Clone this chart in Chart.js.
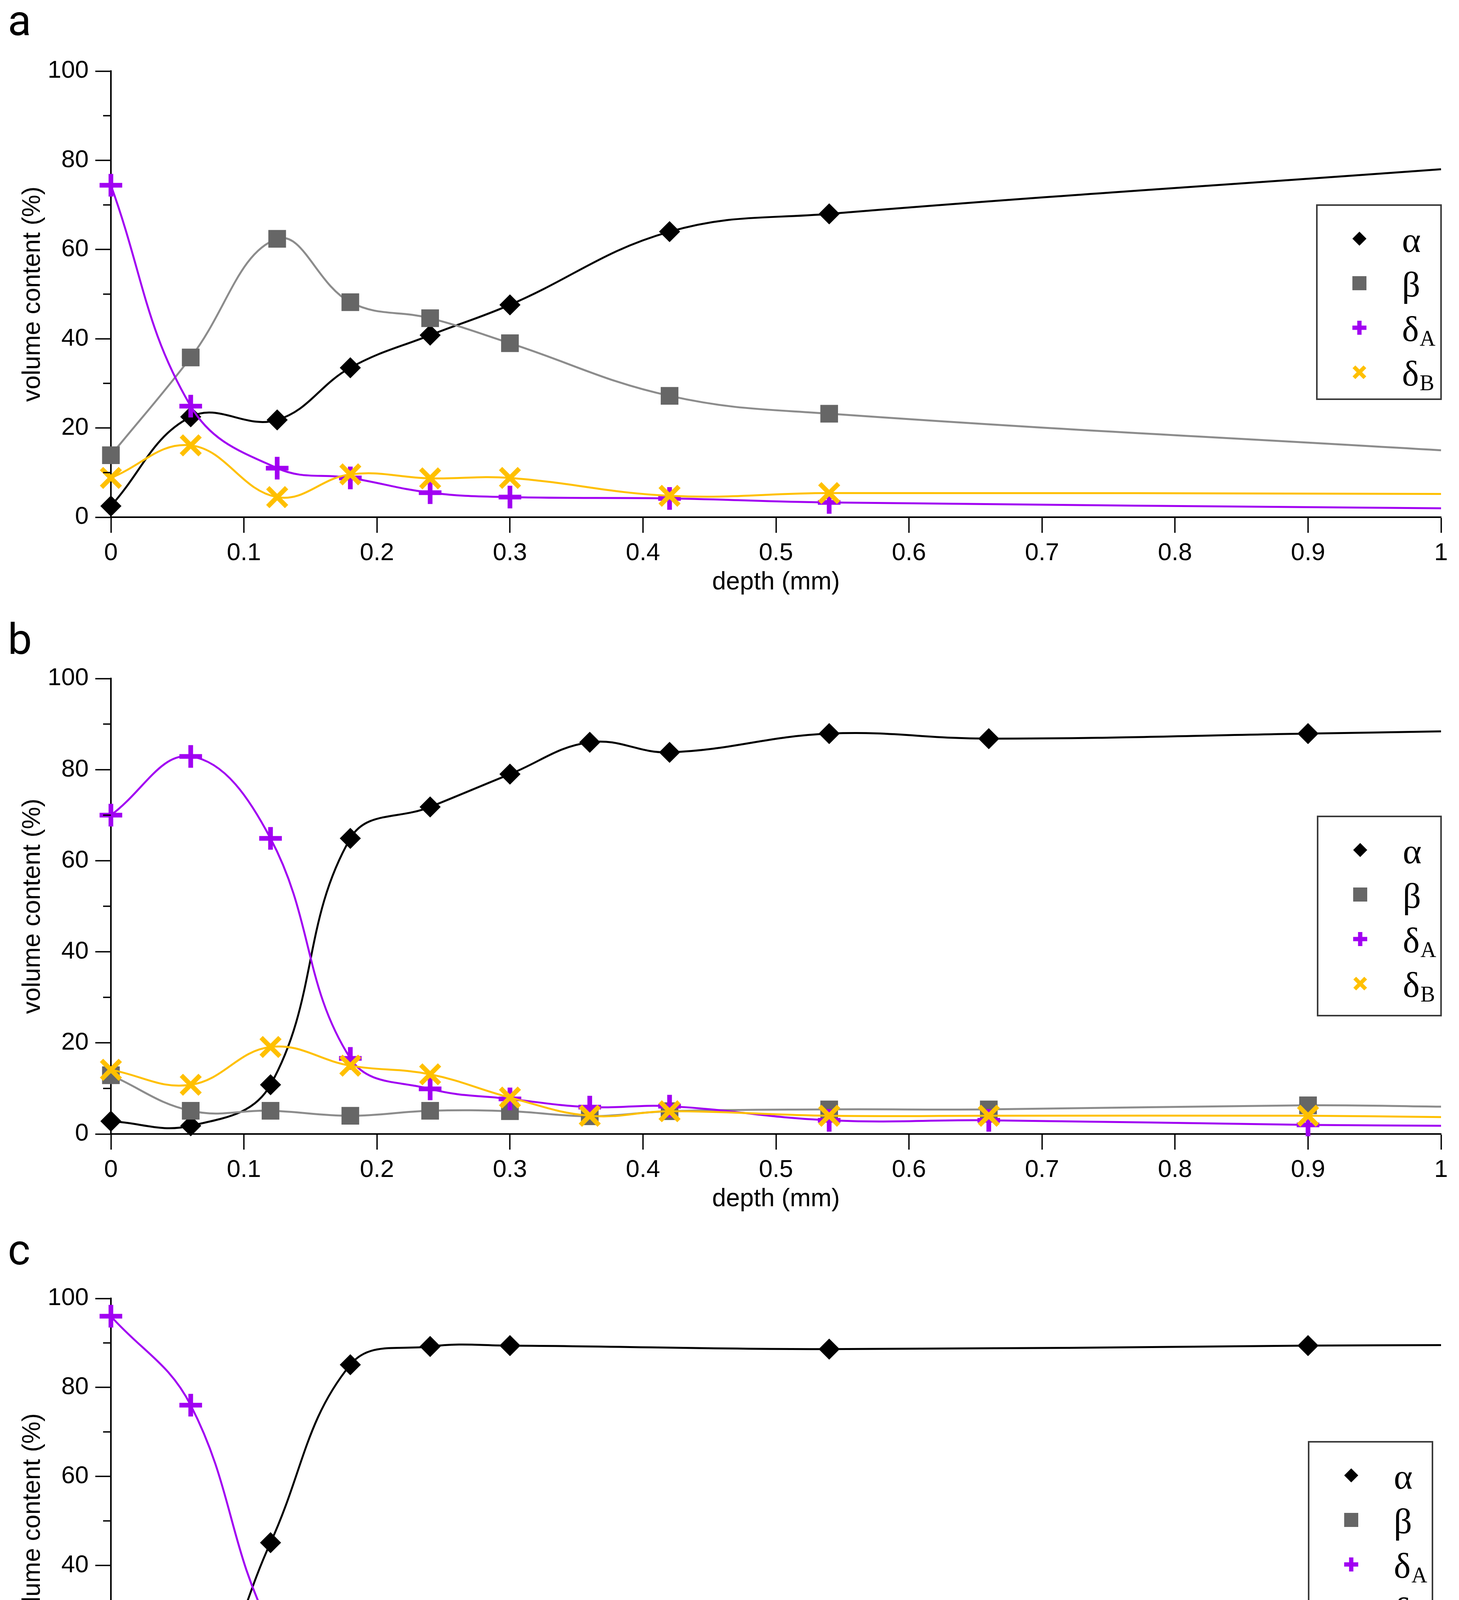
<!DOCTYPE html>
<html>
<head>
<meta charset="utf-8">
<script src="https://cdn.jsdelivr.net/npm/chart.js@4.4.1/dist/chart.umd.min.js"></script>
<style>
  html, body { margin: 0; padding: 0; background: #fff; }
  #page { position: relative; width: 3736px; height: 4670px; }
  canvas { position: absolute; left: 0; }
</style>
</head>
<body>
<div id="page">
<canvas id="chartA" width="3736" height="1560" style="top:0px"></canvas>
<canvas id="chartB" width="3736" height="1560" style="top:1560px"></canvas>
<canvas id="chartC" width="3736" height="1550" style="top:3120px"></canvas>
</div>
<script>
// ---- data (volume content %, depth in mm) ----
// panel a
const depthA  = [0, 0.06, 0.125, 0.18, 0.24, 0.3, 0.42, 0.54];
const alphaA  = [2.5, 22.5, 21.8, 33.5, 40.8, 47.6, 64, 68];
const betaA   = [13.9, 35.8, 62.4, 48.2, 44.6, 39, 27.2, 23.2];
const deltaAA = [74.4, 24.9, 11, 8.8, 5.5, 4.5, 4.2, 3.3];
const deltaBA = [8.8, 16.1, 4.5, 9.6, 8.7, 8.8, 4.8, 5.4];
const fitEndA = [78, 15, 2, 5.2];          // fitted curves at depth 1 (α, β, δA, δB)

// panel b
const depthB  = [0, 0.06, 0.12, 0.18, 0.24, 0.3, 0.36, 0.42, 0.54, 0.66, 0.9];
const alphaB  = [2.8, 1.8, 10.8, 64.9, 71.8, 79, 86, 83.8, 87.9, 86.8, 87.9];
const betaB   = [12.9, 5.1, 5.1, 4, 5.1, 5, 3.9, 5, 5.4, 5.4, 6.3];
const deltaAB = [70, 82.9, 64.9, 16.6, 9.9, 7.7, 5.9, 6.1, 3, 3, 2];
const deltaBB = [14.1, 10.8, 19.1, 15, 13.1, 8, 4, 5, 4, 4, 4];
const fitEndB = [88.4, 6, 1.8, 3.7];

// panel c
const depthC  = [0, 0.06, 0.12, 0.18, 0.24, 0.3, 0.54, 0.9];
const alphaC  = [2.5, 6.6, 45.1, 85.1, 89.2, 89.4, 88.6, 89.4];
const betaC   = [0, 3.6, 4.9, 0.2, 4.4, 4.9, 6, 6.2];
const deltaAC = [96, 76, 26, 5.3, 3, 2.6, 2.5, 1.9];
const deltaBC = [2.1, 14, 25.1, 8.9, 4.3, 3.4, 3.6, 3.4];
const fitEndC = [89.5, 5.9, 1.8, 2.9];

const xTicks = [0, 1, 0.1];                // min, max, step
const yTicks = [0, 100, 20];
const yMinorTicks = [10, 30, 50, 70, 90];
const legendNames = [['α', ''], ['β', ''], ['δ', 'A'], ['δ', 'B']];

// ---- styling ----
const sansFont = '"Liberation Sans", Arial, sans-serif';
const serifFont = '"Liberation Serif", "Times New Roman", serif';
const seriesStyle = [
  { line: '#000000', marker: '#000000', shape: 'rectRot',  radius: 27, bw: 0,  order: 3 },
  { line: '#8c8c8c', marker: '#666666', shape: 'rect',     radius: 32, bw: 0,  order: 2 },
  { line: '#a100f2', marker: '#a100f2', shape: 'cross',    radius: 29, bw: 12, order: 1 },
  { line: '#ffc000', marker: '#ffc000', shape: 'crossRot', radius: 34, bw: 12, order: 0 }
];

const panels = [
  { id: 'chartA', letter: 'a', letterY: 90,  areaTop: 182, areaBottom: 1324, height: 1560,
    legend: { right: 0, top: 343, w: 318, h: 497 },
    depth: depthA, series: [alphaA, betaA, deltaAA, deltaBA], ends: fitEndA },
  { id: 'chartB', letter: 'b', letterY: 114, areaTop: 177, areaBottom: 1343, height: 1560,
    legend: { right: 0, top: 353, w: 316, h: 510 },
    depth: depthB, series: [alphaB, betaB, deltaAB, deltaBB], ends: fitEndB },
  { id: 'chartC', letter: 'c', letterY: 117, areaTop: 204, areaBottom: 1343, height: 1550,
    legend: { right: -22, top: 367, w: 317, h: 501 },
    depth: depthC, series: [alphaC, betaC, deltaAC, deltaBC], ends: fitEndC }
];

function drawMarker(ctx, shape, x, y, r, color, lw) {
  ctx.save();
  ctx.fillStyle = color;
  ctx.strokeStyle = color;
  ctx.lineWidth = lw;
  ctx.beginPath();
  if (shape === 'rectRot') {
    ctx.moveTo(x, y - r); ctx.lineTo(x + r, y); ctx.lineTo(x, y + r); ctx.lineTo(x - r, y);
    ctx.closePath(); ctx.fill();
  } else if (shape === 'rect') {
    ctx.fillRect(x - r, y - r, 2 * r, 2 * r);
  } else if (shape === 'cross') {
    ctx.moveTo(x - r, y); ctx.lineTo(x + r, y);
    ctx.moveTo(x, y - r); ctx.lineTo(x, y + r);
    ctx.stroke();
  } else {
    ctx.moveTo(x - r, y - r); ctx.lineTo(x + r, y + r);
    ctx.moveTo(x + r, y - r); ctx.lineTo(x - r, y + r);
    ctx.stroke();
  }
  ctx.restore();
}

const panelDecor = {
  id: 'panelDecor',
  afterDraw(chart, args, opts) {
    const { ctx, chartArea } = chart;
    const y = chart.scales.y;
    ctx.save();
    // minor ticks on the y axis
    ctx.strokeStyle = '#000';
    ctx.lineWidth = 3.5;
    yMinorTicks.forEach(v => {
      const py = y.getPixelForValue(v);
      ctx.beginPath();
      ctx.moveTo(chartArea.left - 20, py);
      ctx.lineTo(chartArea.left, py);
      ctx.stroke();
    });
    // panel letter
    ctx.fillStyle = '#000';
    ctx.font = '110px Roboto';
    ctx.textAlign = 'left';
    ctx.textBaseline = 'alphabetic';
    ctx.fillText(opts.letter, 20, opts.letterY);
    // legend
    const lg = opts.legend;
    const bx = chartArea.right + lg.right - lg.w;
    const by = chartArea.top + lg.top;
    ctx.fillStyle = '#fff';
    ctx.fillRect(bx, by, lg.w, lg.h);
    ctx.strokeStyle = '#3a3a3a';
    ctx.lineWidth = 4;
    ctx.strokeRect(bx, by, lg.w, lg.h);
    const legendMarker = [
      { r: 18, lw: 0 }, { r: 18, lw: 0 }, { r: 18, lw: 11 }, { r: 14, lw: 10 }
    ];
    legendNames.forEach((name, i) => {
      const st = seriesStyle[i];
      const cy = by + 86 + i * 114;
      drawMarker(ctx, st.shape, bx + 109, cy, legendMarker[i].r, st.marker, legendMarker[i].lw);
      ctx.fillStyle = '#000';
      ctx.font = '92px ' + serifFont;
      ctx.textAlign = 'left';
      ctx.textBaseline = 'alphabetic';
      const tx = bx + 218;
      ctx.fillText(name[0], tx, cy + 34);
      if (name[1]) {
        const w = ctx.measureText(name[0]).width;
        ctx.font = '56px ' + serifFont;
        ctx.fillText(name[1], tx + w + 2, cy + 46);
      }
    });
    ctx.restore();
  }
};

function buildDatasets(p) {
  return p.series.map((vals, i) => {
    const st = seriesStyle[i];
    const pts = p.depth.map((d, k) => ({ x: d, y: vals[k] }));
    pts.push({ x: 1, y: p.ends[i] });
    return {
      data: pts,
      order: st.order,
      borderColor: st.line,
      borderWidth: 5,
      tension: 0.4,
      fill: false,
      clip: false,
      pointStyle: st.shape,
      pointRadius: ctx => (ctx.dataIndex === ctx.dataset.data.length - 1 ? 0 : st.radius),
      pointBackgroundColor: st.marker,
      pointBorderColor: st.marker,
      pointBorderWidth: st.bw
    };
  });
}

panels.forEach(p => {
  const xGap = p.height - p.areaBottom;
  new Chart(document.getElementById(p.id), {
    type: 'line',
    data: { datasets: buildDatasets(p) },
    plugins: [panelDecor],
    options: {
      responsive: false,
      animation: false,
      devicePixelRatio: 1,
      events: [],
      layout: { padding: { top: p.areaTop, right: 36, bottom: 0, left: 0 } },
      plugins: {
        legend: { display: false },
        tooltip: { enabled: false },
        panelDecor: { letter: p.letter, letterY: p.letterY, legend: p.legend }
      },
      scales: {
        x: {
          type: 'linear',
          min: xTicks[0], max: xTicks[1],
          afterFit: s => { s.height = xGap; },
          border: { display: true, color: '#000', width: 4 },
          grid: { display: true, drawOnChartArea: false, drawTicks: true, tickLength: 40, tickWidth: 3.5, tickColor: '#000' },
          ticks: {
            stepSize: xTicks[2], autoSkip: false, maxRotation: 0, padding: 15, color: '#000',
            font: { family: sansFont, size: 63 },
            callback: v => String(Math.round(v * 10) / 10)
          },
          title: {
            display: true, text: 'depth (mm)', color: '#000',
            font: { family: sansFont, size: 64 },
            padding: { top: 0, bottom: xGap - 167 - 38.4 }
          }
        },
        y: {
          min: yTicks[0], max: yTicks[1],
          afterFit: s => { s.width = 284; },
          border: { display: true, color: '#000', width: 4 },
          grid: { display: true, drawOnChartArea: false, drawTicks: true, tickLength: 40, tickWidth: 3.5, tickColor: '#000' },
          ticks: {
            stepSize: yTicks[2], padding: 17, color: '#000',
            font: { family: sansFont, size: 63 }
          },
          title: {
            display: true, text: 'volume content (%)', color: '#000',
            font: { family: sansFont, size: 64 },
            padding: { top: 46, bottom: 0 }
          }
        }
      }
    }
  });
});
</script>
</body>
</html>
